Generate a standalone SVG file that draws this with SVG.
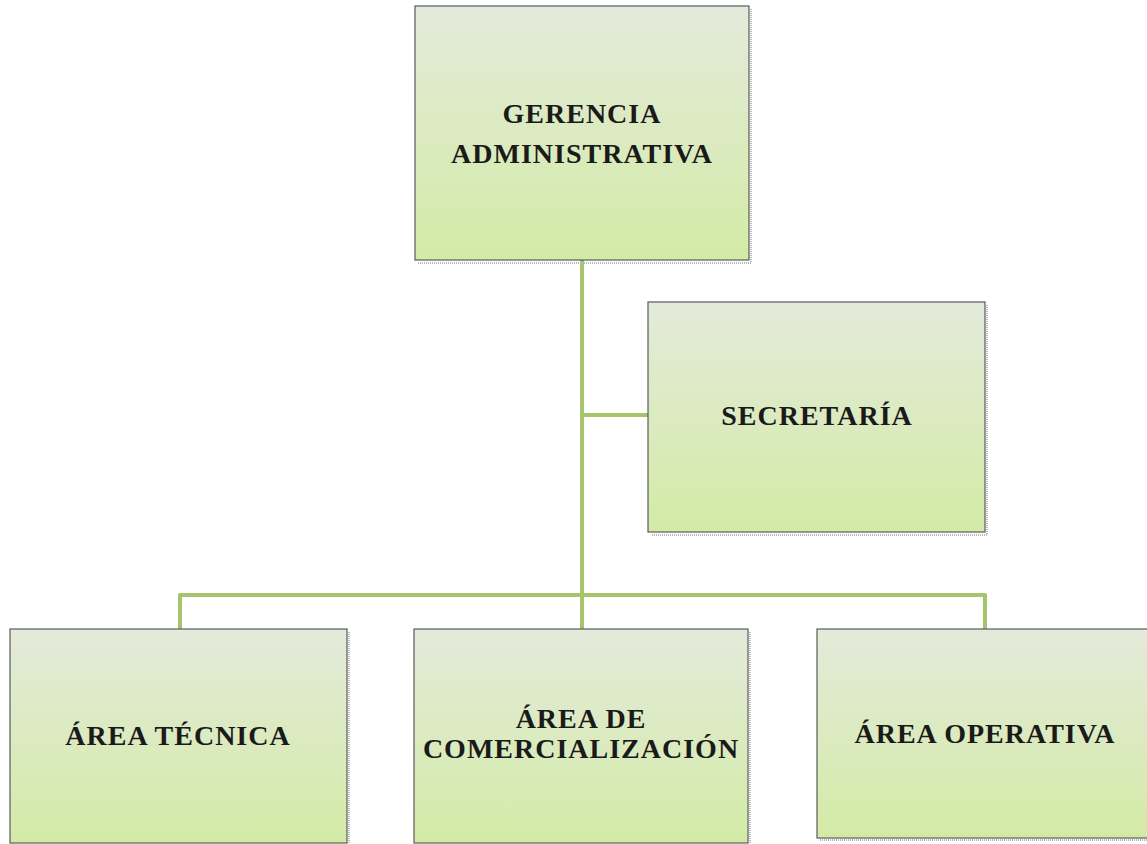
<svg xmlns="http://www.w3.org/2000/svg" width="1147" height="844" viewBox="0 0 1147 844">
<defs>
<linearGradient id="g" x1="0" y1="0" x2="0" y2="1">
<stop offset="0" stop-color="#e4eadb"/>
<stop offset="1" stop-color="#d3eba6"/>
</linearGradient>
<style>
.box{fill:url(#g);stroke:#5a5a5a;stroke-width:1.2}
.sh{fill:none;stroke:#b8b8b8;stroke-width:2;stroke-dasharray:1 1}
.t{font-family:"Liberation Serif","Times New Roman",serif;font-weight:bold;font-size:28px;letter-spacing:1px;fill:#1a1a1a;text-anchor:middle}
.c{fill:none;stroke:#a6c46c;stroke-width:4;stroke-linejoin:round}
</style>
</defs>
<rect width="1147" height="844" fill="#ffffff"/>
<g id="connectors">
<path class="c" d="M582 260 V629"/>
<path class="c" d="M582 415 H648"/>
<path class="c" d="M180 629 V595 H985 V629"/>
</g>
<g id="gerencia">
<path class="sh" d="M751 9 V263 H418"/>
<rect class="box" x="415" y="6" width="334" height="254"/>
<text class="t" x="582" y="123">GERENCIA</text>
<text class="t" x="582" y="163">ADMINISTRATIVA</text>
</g>
<g id="secretaria">
<path class="sh" d="M987 305 V535 H651"/>
<rect class="box" x="648" y="302" width="337" height="230"/>
<text class="t" x="817" y="425">SECRETARÍA</text>
</g>
<g id="tecnica">
<path class="sh" d="M349 632 V846"/>
<rect class="box" x="10" y="629" width="337" height="214"/>
<text class="t" x="178" y="745">ÁREA TÉCNICA</text>
</g>
<g id="comercializacion">
<path class="sh" d="M750 632 V846"/>
<rect class="box" x="414" y="629" width="334" height="214"/>
<text class="t" x="581" y="728">ÁREA DE</text>
<text class="t" x="581" y="758">COMERCIALIZACIÓN</text>
</g>
<g id="operativa">
<path class="sh" d="M820 840 H1147"/>
<rect class="box" x="817" y="629" width="332" height="209"/>
<text class="t" x="985" y="743">ÁREA OPERATIVA</text>
</g>
</svg>
